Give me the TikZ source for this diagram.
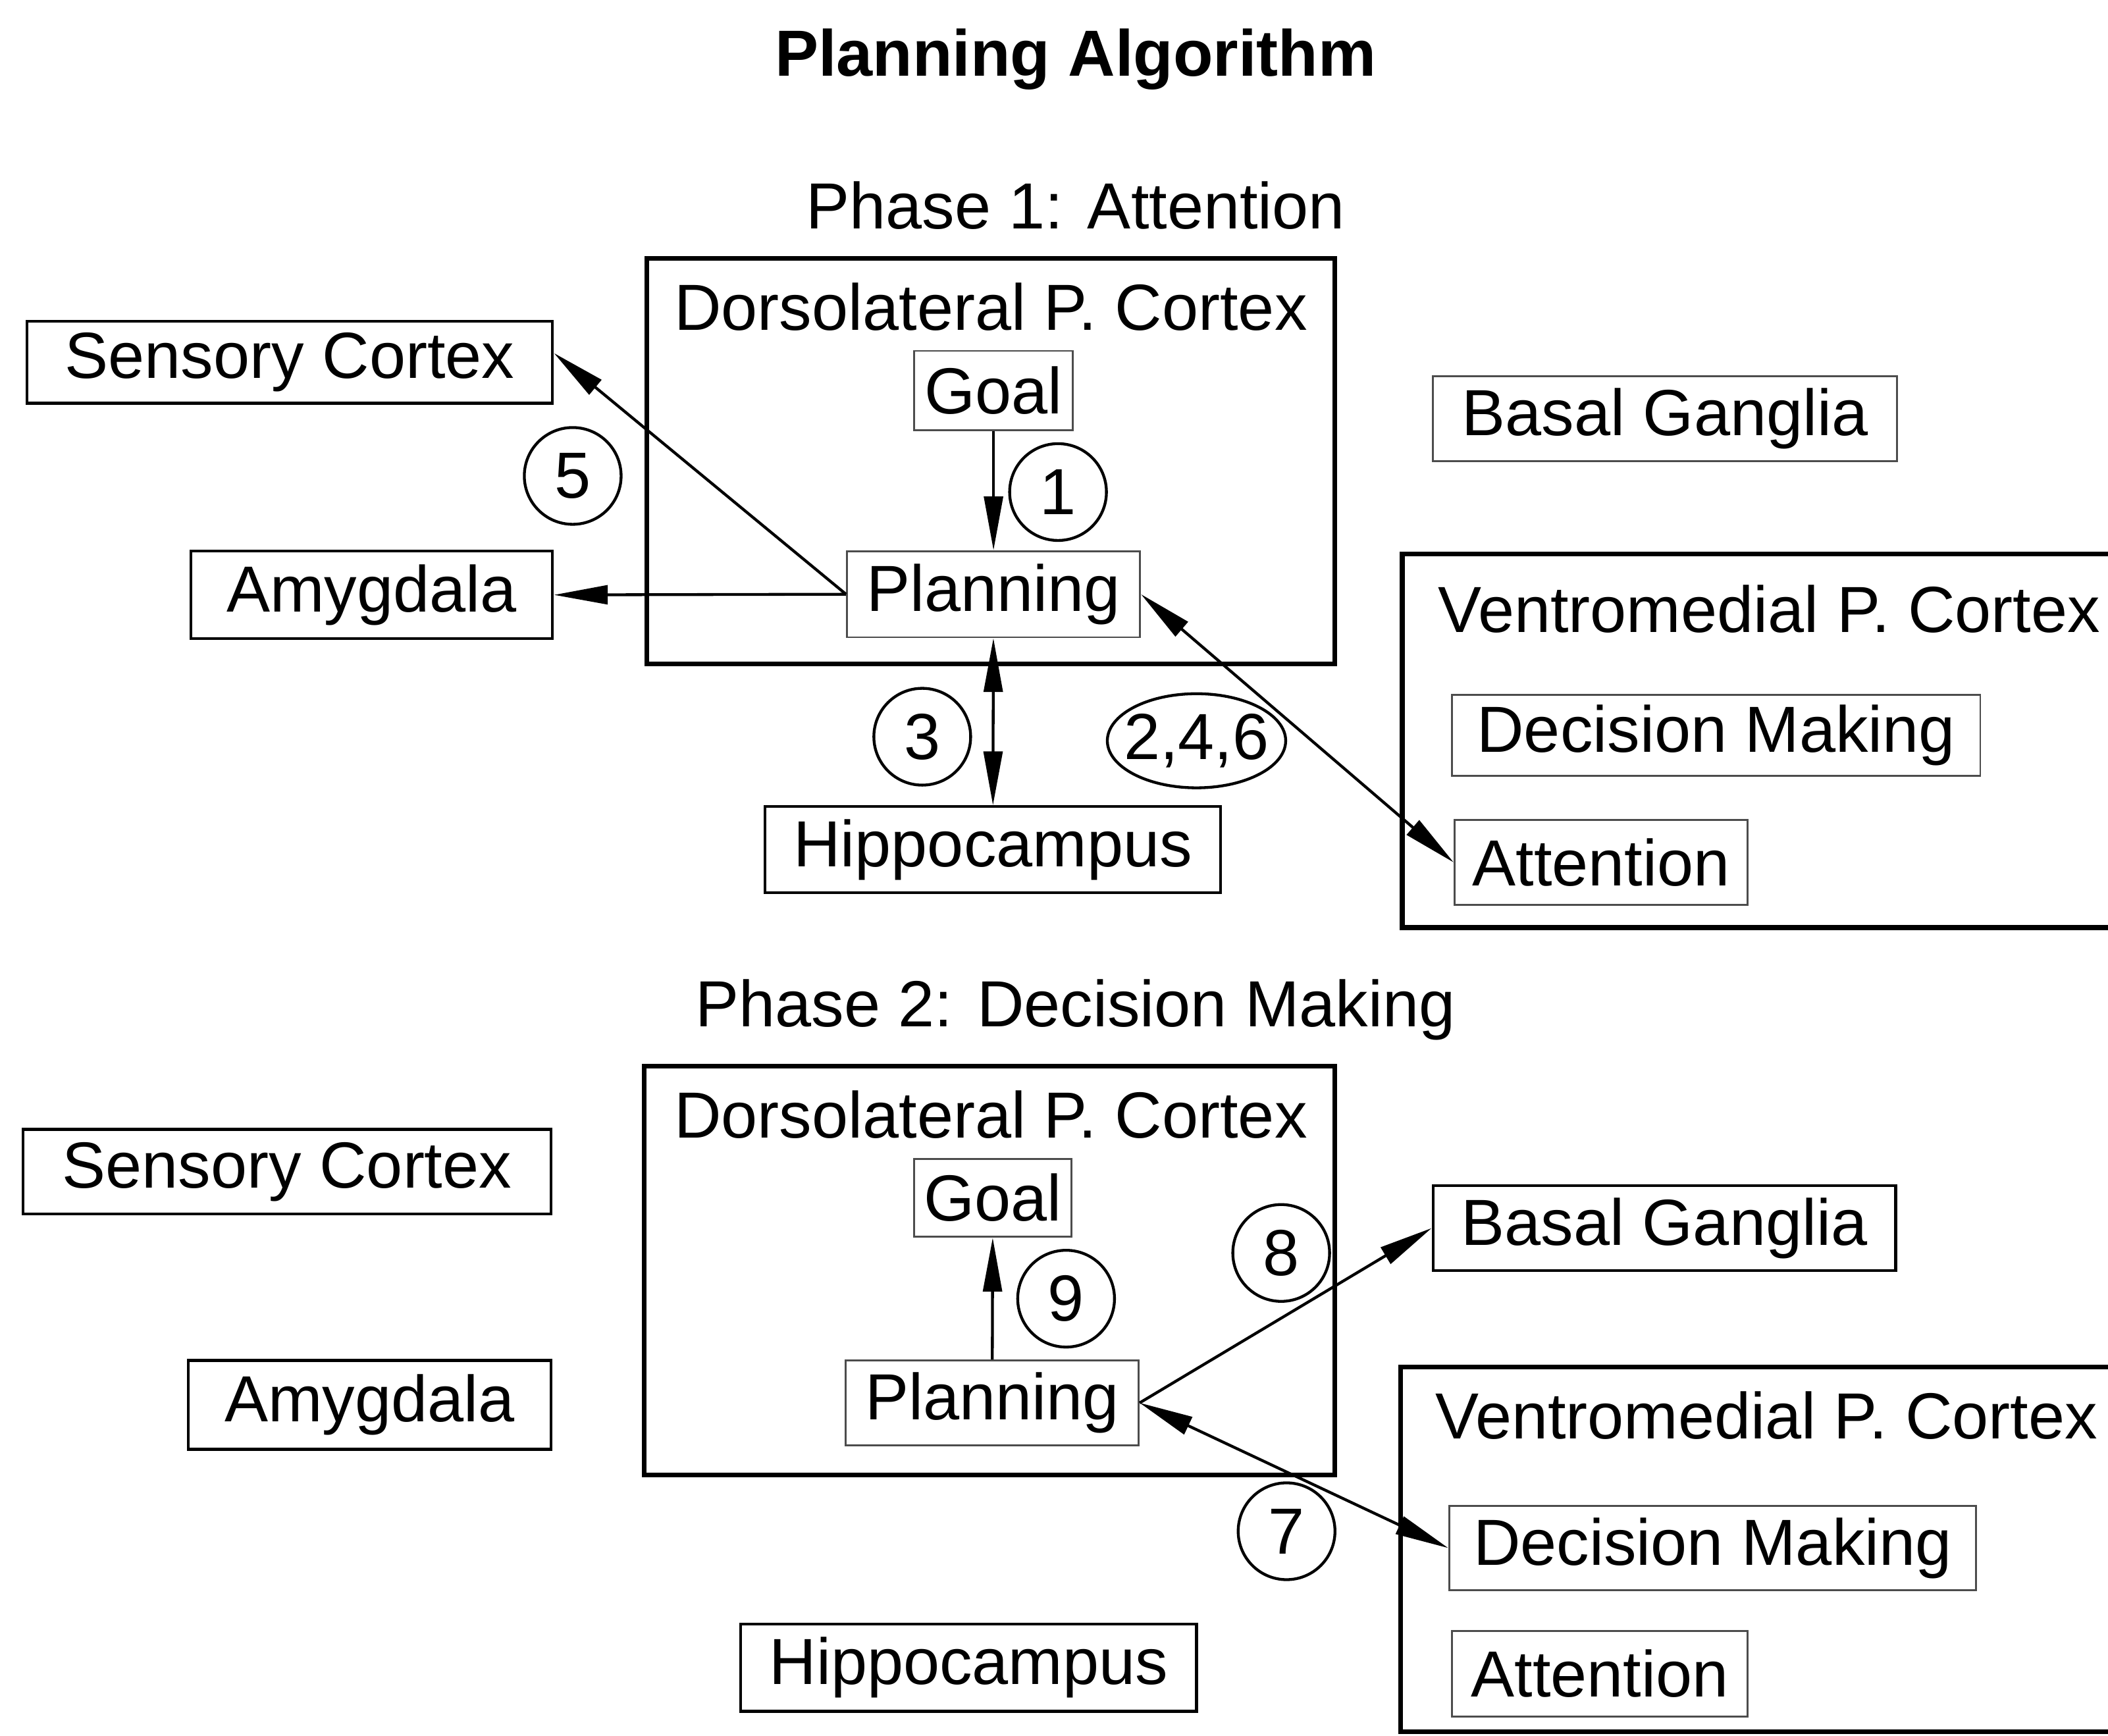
\documentclass[tikz,border=0pt]{standalone}
\usepackage{fontspec}
\setmainfont{Liberation Sans}
\usetikzlibrary{arrows.meta,shapes.geometric}

\tikzset{
  txt/.style={font=\fontsize{13.8}{16}\selectfont},
  box/.style={txt, draw, line width=0.6pt, inner sep=0pt},
  sub/.style={txt, draw=black!70, line width=0.4pt, inner sep=0pt},
  region/.style={draw, line width=1pt, inner sep=0pt},
  num/.style={txt, circle, draw, line width=0.6pt, minimum size=7.2mm, inner sep=0pt},
  link/.style={line width=0.6pt, -{Triangle[length=4mm,width=1.4mm]}},
  dlink/.style={line width=0.6pt, {Triangle[length=4mm,width=1.4mm]}-{Triangle[length=4mm,width=1.4mm]}},
}

\begin{document}
\begin{tikzpicture}[x=0.1mm,y=-0.1mm]
        \clip (0,0) rectangle (1568,1291);

        \node[font=\bfseries\fontsize{13.8}{16}\selectfont] (title) at (800,44) {Planning Algorithm};

        % phase 1
        \node[txt] (ph1) at (800,153) {Phase 1: Attention};
        \node[region, minimum width=51.2mm, minimum height=30.2mm] (dl1) at (737,343) {};
        \node[txt] (dltxt1) at (737,228) {Dorsolateral P. Cortex};
        \node[sub, minimum width=11.8mm, minimum height=5.9mm] (goal1) at (739,290.5) {Goal};
        \node[sub, minimum width=21.8mm, minimum height=6.4mm] (plan1) at (739,442) {Planning};
        \node[box, minimum width=39.1mm, minimum height=6.1mm] (sc1) at (215.5,269.5) {Sensory Cortex};
        \node[box, minimum width=26.9mm, minimum height=6.5mm] (am1) at (276.5,442.5) {Amygdala};
        \node[box, minimum width=33.9mm, minimum height=6.4mm] (hc1) at (738.5,632) {Hippocampus};
        \node[sub, minimum width=34.5mm, minimum height=6.3mm] (bg1) at (1238.5,311.5) {Basal Ganglia};
        \node[region, minimum width=57.7mm, minimum height=27.8mm] (vm1) at (1331.5,551) {};
        \node[txt] (vmtxt1) at (1316,453) {Ventromedial P. Cortex};
        \node[sub, minimum width=39.3mm, minimum height=6.0mm] (dm1) at (1276.5,547) {Decision Making};
        \node[sub, minimum width=21.8mm, minimum height=6.3mm] (at1) at (1191,641.5) {Attention};

        \node[num] (n5) at (426,354) {5};
        \node[num] (n1) at (787,366) {1};
        \node[num] (n3) at (686,548) {3};
        \node[txt, ellipse, draw, line width=0.6pt, minimum height=7mm, inner xsep=-2pt, inner ysep=0pt] (n246) at (890,551) {2,4,6};

        \draw[link] (goal1) -- (plan1);
        \draw[link] (plan1.west) -- (sc1.2);
        \draw[link] (plan1.west) -- (am1.east);
        \draw[dlink] (plan1) -- (hc1);
        \draw[dlink] (plan1.east) -- (at1.west);

        % phase 2
        \node[txt] (ph2) at (800,751) {Phase 2: Decision Making};
        \node[region, minimum width=51.4mm, minimum height=30.4mm] (dl2) at (736,945) {};
        \node[txt] (dltxt2) at (737,829) {Dorsolateral P. Cortex};
        \node[sub, minimum width=11.7mm, minimum height=5.8mm] (goal2) at (738.5,891) {Goal};
        \node[sub, minimum width=21.8mm, minimum height=6.3mm] (plan2) at (738,1043.5) {Planning};
        \node[box, minimum width=39.3mm, minimum height=6.3mm] (sc2) at (213.5,871.5) {Sensory Cortex};
        \node[box, minimum width=27.0mm, minimum height=6.6mm] (am2) at (275,1045) {Amygdala};
        \node[box, minimum width=33.9mm, minimum height=6.5mm] (hc2) at (720.5,1240.5) {Hippocampus};
        \node[box, minimum width=34.4mm, minimum height=6.3mm] (bg2) at (1238,913.5) {Basal Ganglia};
        \node[region, minimum width=57.8mm, minimum height=27.1mm] (vm2) at (1331,1152.5) {};
        \node[txt] (vmtxt2) at (1314,1053) {Ventromedial P. Cortex};
        \node[sub, minimum width=39.2mm, minimum height=6.3mm] (dm2) at (1274,1151.5) {Decision Making};
        \node[sub, minimum width=22.0mm, minimum height=6.4mm] (at2) at (1190,1245) {Attention};

        \node[num] (n8) at (953,932) {8};
        \node[num] (n9) at (793,966) {9};
        \node[num] (n7) at (957,1139) {7};

        \draw[link] (plan2) -- (goal2);
        \draw[link] (plan2.east) -- (bg2.west);
        \draw[dlink] (plan2.east) -- (dm2.west);
\end{tikzpicture}
\end{document}
